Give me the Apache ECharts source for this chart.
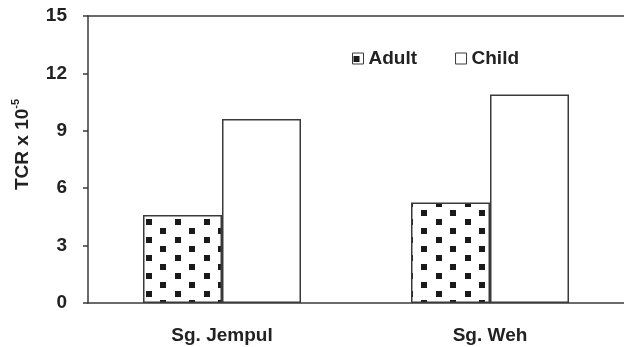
<!DOCTYPE html>
<html>
<head>
<meta charset="utf-8">
<script src="https://cdn.jsdelivr.net/npm/echarts@6/dist/echarts.min.js"></script>
<style>
html,body{margin:0;padding:0;background:#fff;}
#chart{width:624px;height:347px;}
</style>
</head>
<body>
<div id="chart"></div>
<script>
var categories = ['Sg. Jempul', 'Sg. Weh'];
var adultValues = [4.6, 5.25];
var childValues = [9.62, 10.9];
var yTicks = [0, 3, 6, 9, 12, 15];

// dotted pattern for Adult bars
var pc = document.createElement('canvas');
pc.width = 29; pc.height = 18;
var pctx = pc.getContext('2d');
pctx.fillStyle = '#ffffff';
pctx.fillRect(0, 0, 29, 18);
pctx.fillStyle = '#1a1a1a';
pctx.fillRect(1, 3, 6, 6);
pctx.fillRect(15, 12, 6, 6);

var chart = echarts.init(document.getElementById('chart'), null, {renderer: 'canvas'});
var lineColor = '#3a3a3a';
var txt = '#222';
var ff = 'Liberation Sans, Arial, sans-serif';
var option = {
  animation: false,
  backgroundColor: '#fff',
  textStyle: {fontFamily: ff},
  legend: {
    left: 347, top: 44,
    itemWidth: 11, itemHeight: 11, itemGap: 38,
    textStyle: {fontSize: 19, fontWeight: 'bold', color: txt, fontFamily: ff},
    data: [
      {name: 'Adult', icon: 'rect', itemStyle: {color: {image: pc, repeat: 'repeat'}, borderColor: lineColor, borderWidth: 1}},
      {name: 'Child', icon: 'rect', itemStyle: {color: '#fff', borderColor: lineColor, borderWidth: 1}}
    ]
  },
  grid: {left: 88, top: 16, width: 540, height: 287},
  xAxis: [{
    type: 'category',
    data: categories,
    axisLine: {lineStyle: {color: lineColor, width: 1.5}},
    axisTick: {show: false},
    axisLabel: {fontSize: 19, fontWeight: 'bold', color: txt, margin: 23, fontFamily: ff}
  }, {
    type: 'category',
    position: 'top',
    data: categories,
    axisLine: {show: true, lineStyle: {color: lineColor, width: 1.5}},
    axisTick: {show: false},
    axisLabel: {show: false}
  }],
  yAxis: {
    type: 'value',
    min: yTicks[0], max: yTicks[yTicks.length - 1], interval: 3,
    axisLine: {show: true, lineStyle: {color: lineColor, width: 1.5}},
    axisTick: {show: true, inside: false, length: 5, lineStyle: {color: lineColor, width: 1.5}},
    splitLine: {show: false},
    axisLabel: {fontSize: 19, fontWeight: 'bold', color: txt, margin: 21, fontFamily: ff},
    name: '{b|TCR x 10}{s|-5}',
    nameLocation: 'middle',
    nameRotate: 90,
    nameGap: 56,
    nameTextStyle: {
      padding: [0, 0, 0, 30],
      rich: {
        b: {fontSize: 19, fontWeight: 'bold', color: txt, fontFamily: ff, lineHeight: 22, verticalAlign: 'bottom'},
        s: {fontSize: 11, fontWeight: 'bold', color: txt, fontFamily: ff, lineHeight: 22, verticalAlign: 'top'}
      }
    }
  },
  series: [{
    name: 'Adult', type: 'bar', data: adultValues,
    barWidth: 79, barGap: '0%',
    itemStyle: {color: {image: pc, repeat: 'repeat'}, borderColor: lineColor, borderWidth: 1.5}
  }, {
    name: 'Child', type: 'bar', data: childValues,
    barWidth: 79, barGap: '0%',
    itemStyle: {color: '#fff', borderColor: lineColor, borderWidth: 1.5}
  }]
};
chart.setOption(option);
</script>
</body>
</html>
